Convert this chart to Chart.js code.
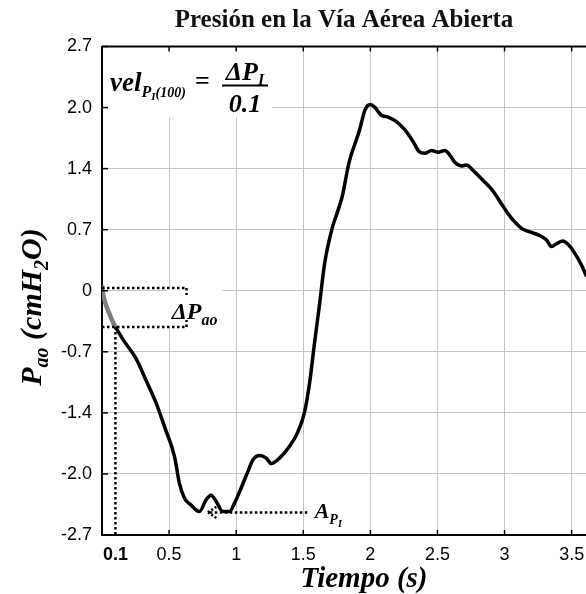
<!DOCTYPE html>
<html lang="es">
<head>
<meta charset="UTF-8">
<title>Presión en la Vía Aérea Abierta</title>
<script src="https://cdn.jsdelivr.net/npm/chart.js"></script>
<style>
  html, body { margin: 0; padding: 0; background: #fff; }
  #wrap { width: 586px; height: 594px; }
</style>
</head>
<body>
<div id="wrap"><canvas id="paoChart"></canvas></div>
<script>
// primeros 100 ms del esfuerzo (trazo gris)
const tInicial = [0, 0.0075, 0.03, 0.054, 0.079, 0.1];
const paoInicial = [0.06, -0.03, -0.16, -0.25, -0.34, -0.40];

// resto de la curva de Pao
const tiempo = [0.1, 0.166, 0.254, 0.328, 0.403, 0.465, 0.54, 0.577, 0.614, 0.664, 0.726, 0.776, 0.813, 0.851,
  0.9, 0.95, 0.987, 1.037, 1.087, 1.124, 1.174, 1.224, 1.261, 1.323, 1.398, 1.46, 1.51, 1.547, 1.582, 1.622,
  1.659, 1.715, 1.75, 1.79, 1.84, 1.92, 1.96, 2.0, 2.032, 2.082, 2.131, 2.194, 2.256, 2.318, 2.363, 2.405,
  2.455, 2.504, 2.554, 2.592, 2.629, 2.679, 2.716, 2.766, 2.84, 2.915, 2.99, 3.064, 3.127, 3.189, 3.263,
  3.313, 3.351, 3.388, 3.433, 3.475, 3.525, 3.575, 3.607, 3.65];
const pao = [-0.40, -0.56, -0.75, -0.99, -1.24, -1.50, -1.83, -2.13, -2.29, -2.37, -2.44, -2.31, -2.26, -2.33,
  -2.44, -2.44, -2.35, -2.18, -2.00, -1.87, -1.82, -1.85, -1.91, -1.85, -1.72, -1.56, -1.34, -1.02, -0.60, -0.14,
  0.30, 0.69, 0.85, 1.04, 1.41, 1.78, 2.00, 2.06, 2.03, 1.94, 1.92, 1.87, 1.78, 1.65, 1.54, 1.52,
  1.55, 1.53, 1.55, 1.50, 1.42, 1.38, 1.39, 1.33, 1.22, 1.10, 0.93, 0.78, 0.69, 0.65, 0.61,
  0.56, 0.49, 0.52, 0.55, 0.51, 0.41, 0.28, 0.17, 0.04];

const xTicks = [0.1, 0.5, 1, 1.5, 2, 2.5, 3, 3.5];
const xTickLabels = ['0.1', '0.5', '1', '1.5', '2', '2.5', '3', '3.5'];
const yTicks = [-2.7, -2.025, -1.35, -0.675, 0, 0.675, 1.35, 2.025, 2.7];
const yTickLabels = ['-2.7', '-2.0', '-1.4', '-0.7', '0', '0.7', '1.4', '2.0', '2.7'];

// caída de presión en los primeros 100 ms
const pInicio = 0.03, p100 = -0.40, t100 = 0.1, tCorchete = 0.63;
// flecha hacia el punto A_PI
const flechaY = -2.45, flechaDesde = 1.53, flechaHasta = 0.79;

const serif = '"Liberation Serif", "Times New Roman", serif';
const sans = '"Liberation Sans", Arial, sans-serif';

// texto con subíndices: [texto, tamaño, desplazamiento]
function anchoRico(ctx, partes) {
  let w = 0;
  partes.forEach(([t, s]) => { ctx.font = `italic bold ${s}px ${serif}`; w += ctx.measureText(t).width; });
  return w;
}
function textoRico(ctx, partes, x, y) {
  let cx = x;
  partes.forEach(([t, s, dy]) => {
    ctx.font = `italic bold ${s}px ${serif}`;
    ctx.fillText(t, cx, y + dy);
    cx += ctx.measureText(t).width;
  });
}

function linea(ctx, x1, y1, x2, y2) {
  ctx.beginPath();
  ctx.moveTo(x1, y1);
  ctx.lineTo(x2, y2);
  ctx.stroke();
}

const anotaciones = {
  id: 'anotaciones',
  beforeDatasetsDraw(chart) {
    const { ctx, chartArea: a, scales: { x, y } } = chart;
    ctx.save();
    ctx.fillStyle = '#fff';
    // fondo de la fórmula y de la etiqueta ΔPao
    ctx.fillRect(a.left + 2, a.top + 1, 168, 70);
    ctx.fillRect(x.getPixelForValue(0.48), y.getPixelForValue(pInicio), 56, y.getPixelForValue(p100) - y.getPixelForValue(pInicio));
    ctx.restore();
  },
  afterDatasetsDraw(chart) {
    const { ctx, chartArea: a, scales: { x, y } } = chart;
    ctx.save();
    ctx.fillStyle = '#000';
    ctx.strokeStyle = '#000';

    // borde superior y marcas hacia dentro
    ctx.lineWidth = 2;
    linea(ctx, a.left, a.top, a.right + 2, a.top);
    ctx.lineWidth = 1.5;
    xTicks.forEach(v => {
      if (v === t100) return;
      const px = x.getPixelForValue(v);
      linea(ctx, px, a.top, px, a.top + 5);
      linea(ctx, px, a.bottom, px, a.bottom - 5);
    });
    yTicks.forEach(v => {
      const py = y.getPixelForValue(v);
      linea(ctx, a.left, py, a.left + 6, py);
    });

    // líneas punteadas
    ctx.lineWidth = 2.5;
    ctx.setLineDash([2.5, 2.5]);
    const x0 = x.getPixelForValue(0), xc = x.getPixelForValue(tCorchete), x1 = x.getPixelForValue(t100);
    const yA = y.getPixelForValue(pInicio), yB = y.getPixelForValue(p100);
    linea(ctx, x0, yA, xc, yA);
    linea(ctx, x0, yB, xc, yB);
    linea(ctx, xc, yA, xc, yA + 7);
    linea(ctx, xc, yB, xc, yB - 7);
    linea(ctx, x1, yB, x1, a.bottom);
    const fy = y.getPixelForValue(flechaY), fx = x.getPixelForValue(flechaHasta);
    linea(ctx, x.getPixelForValue(flechaDesde), fy, fx, fy);
    ctx.setLineDash([2, 2]);
    linea(ctx, fx, fy, fx + 9, fy - 6);
    linea(ctx, fx, fy, fx + 9, fy + 6);
    ctx.setLineDash([]);

    ctx.textBaseline = 'alphabetic';
    ctx.textAlign = 'left';
    // ΔPao
    textoRico(ctx, [['ΔP', 24, 0], ['ao', 16, 6]], x.getPixelForValue(0.52), yB - 8);
    // A_PI
    textoRico(ctx, [['A', 22, 0], ['P', 14, 6], ['I', 10, 9]], x.getPixelForValue(1.585), fy + 6);

    // vel_PI(100) = ΔP_I / 0.1
    textoRico(ctx, [['vel', 27, 0], ['P', 16, 6], ['I', 11, 9], ['(100)', 14, 6]], a.left + 8, a.top + 44);
    ctx.font = `bold 26px ${serif}`;
    ctx.fillText('=', a.left + 93, a.top + 42);
    const cx = a.left + 143;
    const wNum = anchoRico(ctx, [['ΔP', 26], ['I', 16]]);
    textoRico(ctx, [['ΔP', 26, 0], ['I', 16, 5]], cx - wNum / 2, a.top + 33);
    ctx.lineWidth = 2;
    linea(ctx, cx - 23, a.top + 39, cx + 23, a.top + 39);
    const wDen = anchoRico(ctx, [['0.1', 26]]);
    textoRico(ctx, [['0.1', 26, 0]], cx - wDen / 2, a.top + 65);

    // título del eje x
    const wx = anchoRico(ctx, [['Tiempo (s)', 29]]);
    textoRico(ctx, [['Tiempo (s)', 29, 0]], 364 - wx / 2, 587);

    // título del eje y (girado)
    const partesY = [['P', 30, 0], ['ao', 20, 7], [' (cmH', 30, 0], ['2', 20, 7], ['O)', 30, 0]];
    const wy = anchoRico(ctx, partesY);
    ctx.translate(41, 307);
    ctx.rotate(-Math.PI / 2);
    textoRico(ctx, partesY, -wy / 2, 0);
    ctx.restore();
  }
};

new Chart(document.getElementById('paoChart'), {
  type: 'line',
  data: {
    datasets: [
      {
        data: tInicial.map((t, i) => ({ x: t, y: paoInicial[i] })),
        borderColor: '#7f7f7f',
        borderWidth: 4.5,
        pointRadius: 0,
        cubicInterpolationMode: 'monotone'
      },
      {
        data: tiempo.map((t, i) => ({ x: t, y: pao[i] })),
        borderColor: '#000',
        borderWidth: 3.5,
        borderJoinStyle: 'round',
        borderCapStyle: 'round',
        pointRadius: 0,
        cubicInterpolationMode: 'monotone'
      }
    ]
  },
  options: {
    responsive: true,
    maintainAspectRatio: false,
    animation: false,
    layout: { padding: 0 },
    plugins: {
      legend: { display: false },
      tooltip: { enabled: false },
      title: {
        display: true,
        text: 'Presión en la Vía Aérea Abierta',
        fullSize: false,
        color: '#111',
        font: { family: serif, size: 25, weight: 'bold' },
        padding: { top: 6, bottom: 10.5 }
      }
    },
    scales: {
      x: {
        type: 'linear',
        min: 0,
        max: 3.607,
        afterBuildTicks: s => { s.ticks = xTicks.map(v => ({ value: v })); },
        afterFit: s => { s.height = 59; s.paddingLeft = 0; s.paddingRight = 0; },
        ticks: {
          autoSkip: false,
          maxRotation: 0,
          padding: 9,
          color: '#000',
          font: c => ({ family: sans, size: 18, weight: c.tick && c.tick.value === t100 ? 'bold' : 'normal' }),
          callback: (v, i) => xTickLabels[i]
        },
        grid: {
          drawTicks: false,
          color: c => (c.tick && c.tick.value === t100 ? 'rgba(0,0,0,0)' : '#c4c4c4'),
          lineWidth: 1
        },
        border: { color: '#000', width: 2 }
      },
      y: {
        min: -2.7,
        max: 2.7,
        afterBuildTicks: s => { s.ticks = yTicks.map(v => ({ value: v })); },
        afterFit: s => { s.width = 102; },
        ticks: {
          padding: 10,
          color: '#000',
          font: { family: sans, size: 18 },
          callback: (v, i) => yTickLabels[i]
        },
        grid: { drawTicks: false, color: '#c4c4c4', lineWidth: 1 },
        border: { color: '#000', width: 2 }
      }
    }
  },
  plugins: [anotaciones]
});
</script>
</body>
</html>
